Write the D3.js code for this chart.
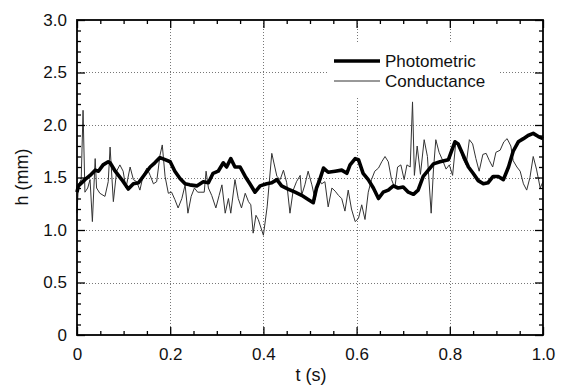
<!DOCTYPE html>
<html><head><meta charset="utf-8">
<script src="https://cdn.jsdelivr.net/npm/d3@7"></script>
<style>body{margin:0;background:#fff}svg{display:block}</style>
</head><body><svg id="c" width="563" height="387"></svg>
<script>
const seriesNames = ["Photometric", "Conductance"];
const xTicks = [0, 0.2, 0.4, 0.6, 0.8, 1.0];
const xTickLabels = ["0", "0.2", "0.4", "0.6", "0.8", "1.0"];
const yTicks = [0, 0.5, 1.0, 1.5, 2.0, 2.5, 3.0];
const yTickLabels = ["0", "0.5", "1.0", "1.5", "2.0", "2.5", "3.0"];
const xTitle = "t (s)";
const yTitle = "h (mm)";

const photoT = [0,0.003,0.017,0.028,0.039,0.046,0.056,0.067,0.071,0.082,0.096,0.110,0.121,0.132,0.142,0.157,0.167,0.178,0.189,0.200,0.210,0.221,0.232,0.242,0.257,0.271,0.282,0.292,0.303,0.314,0.321,0.330,0.339,0.350,0.361,0.371,0.382,0.393,0.407,0.418,0.429,0.439,0.453,0.468,0.482,0.496,0.507,0.514,0.521,0.529,0.539,0.554,0.568,0.579,0.586,0.597,0.604,0.614,0.625,0.636,0.647,0.657,0.668,0.679,0.689,0.700,0.711,0.722,0.732,0.743,0.754,0.765,0.779,0.797,0.811,0.818,0.829,0.840,0.850,0.861,0.872,0.882,0.893,0.904,0.915,0.926,0.936,0.947,0.958,0.968,0.979,0.990,1.000];
const photoH = [1.36,1.42,1.48,1.52,1.57,1.56,1.62,1.65,1.64,1.56,1.48,1.39,1.44,1.45,1.51,1.60,1.64,1.69,1.67,1.65,1.56,1.49,1.44,1.43,1.42,1.46,1.45,1.54,1.56,1.64,1.60,1.68,1.60,1.60,1.51,1.44,1.36,1.42,1.44,1.45,1.48,1.42,1.39,1.36,1.33,1.29,1.26,1.40,1.48,1.59,1.55,1.56,1.57,1.54,1.62,1.68,1.67,1.54,1.48,1.40,1.30,1.36,1.38,1.42,1.40,1.41,1.36,1.34,1.38,1.51,1.57,1.63,1.65,1.67,1.84,1.82,1.71,1.60,1.54,1.47,1.44,1.45,1.51,1.51,1.48,1.60,1.75,1.84,1.87,1.90,1.92,1.89,1.87];

const condT = [0.000,0.003,0.009,0.013,0.017,0.023,0.028,0.033,0.039,0.042,0.049,0.060,0.067,0.071,0.078,0.085,0.092,0.099,0.105,0.114,0.121,0.128,0.135,0.142,0.150,0.157,0.164,0.171,0.178,0.183,0.189,0.196,0.203,0.210,0.217,0.225,0.232,0.238,0.245,0.252,0.259,0.266,0.273,0.277,0.282,0.289,0.298,0.305,0.311,0.318,0.325,0.330,0.339,0.346,0.353,0.361,0.368,0.373,0.378,0.384,0.389,0.400,0.408,0.418,0.429,0.436,0.443,0.450,0.457,0.464,0.471,0.479,0.482,0.489,0.496,0.504,0.511,0.518,0.525,0.532,0.539,0.547,0.554,0.561,0.568,0.575,0.582,0.589,0.597,0.604,0.611,0.618,0.625,0.632,0.639,0.647,0.654,0.661,0.668,0.675,0.682,0.688,0.695,0.702,0.708,0.715,0.720,0.724,0.730,0.737,0.745,0.752,0.760,0.765,0.770,0.777,0.785,0.792,0.799,0.806,0.813,0.820,0.828,0.835,0.842,0.849,0.856,0.863,0.871,0.878,0.885,0.892,0.899,0.908,0.916,0.923,0.931,0.936,0.944,0.951,0.958,0.965,0.972,0.979,0.986,0.994,1.000];
const condH = [1.16,1.43,1.48,2.14,1.36,1.40,1.48,1.08,1.68,1.40,1.35,1.32,1.46,1.79,1.27,1.56,1.62,1.56,1.40,1.60,1.48,1.46,1.38,1.52,1.59,1.52,1.44,1.46,1.71,1.81,1.51,1.35,1.36,1.29,1.21,1.30,1.43,1.16,1.32,1.40,1.36,1.36,1.36,1.56,1.40,1.33,1.21,1.33,1.43,1.16,1.30,1.16,1.48,1.30,1.21,1.35,1.27,1.24,0.97,1.14,1.10,0.95,1.22,1.73,1.51,1.48,1.57,1.45,1.16,1.38,1.46,1.52,1.33,1.43,1.56,1.43,1.29,1.49,1.44,1.46,1.22,1.40,1.37,1.33,1.30,1.18,1.38,1.20,1.08,1.11,1.24,1.10,1.36,1.48,1.56,1.59,1.65,1.70,1.65,1.48,1.40,1.60,1.62,1.48,1.62,1.60,2.22,1.52,1.80,1.53,1.86,1.70,1.16,1.58,1.86,1.74,1.66,1.58,1.62,1.52,1.84,1.82,1.68,1.62,1.86,1.82,1.68,1.56,1.72,1.73,1.66,1.60,1.74,1.76,1.84,1.87,1.80,1.66,1.60,1.56,1.44,1.38,1.50,1.70,1.58,1.40,1.46];

const W = 563, H = 387;
const m = {left: 77, right: 543, top: 20, bottom: 335};
const FONT = "'Liberation Sans', Arial, Helvetica, sans-serif";

const svg = d3.select("#c");
const x = d3.scaleLinear().domain([0, 1]).range([m.left, m.right]);
const y = d3.scaleLinear().domain([0, 3]).range([m.bottom, m.top]);

const xMinor = d3.range(0, 21).map(i => i * 0.05).filter(v => !xTicks.some(t => Math.abs(t - v) < 1e-6));
const yMinor = d3.range(0, 31).map(i => i * 0.1).filter(v => !yTicks.some(t => Math.abs(t - v) < 1e-6));

// grid
const grid = svg.append("g").attr("stroke", "#777").attr("stroke-width", 1).attr("stroke-dasharray", "1,2");
grid.selectAll("line.gx").data(xTicks.slice(1, -1)).join("line")
  .attr("x1", d => Math.round(x(d)) + 0.5).attr("x2", d => Math.round(x(d)) + 0.5)
  .attr("y1", m.top).attr("y2", m.bottom);
grid.selectAll("line.gy").data(yTicks.slice(1, -1)).join("line")
  .attr("y1", d => Math.round(y(d)) + 0.5).attr("y2", d => Math.round(y(d)) + 0.5)
  .attr("x1", m.left).attr("x2", m.right);

// legend background
svg.append("rect").attr("x", 329).attr("y", 44).attr("width", 170).attr("height", 54).attr("fill", "#fff");

// data
const line = d3.line().x(d => x(d[0])).y(d => y(d[1]));
const condData = d3.zip(condT, condH);
const photoData = d3.zip(photoT, photoH);
svg.append("path").datum(condData).attr("d", line).attr("fill", "none")
  .attr("stroke", "#333").attr("stroke-width", 1).attr("stroke-linejoin", "round");
svg.append("path").datum(photoData).attr("d", line).attr("fill", "none")
  .attr("stroke", "#000").attr("stroke-width", 3.6).attr("stroke-linejoin", "round");

// axes
function styleAxis(g) {
  g.select(".domain").remove();
  g.selectAll(".tick line").attr("stroke", "#000").attr("stroke-width", 1.3);
  g.selectAll("text").attr("font-family", FONT).attr("font-size", 17).attr("fill", "#111");
}
svg.append("g").attr("transform", `translate(0,${m.bottom})`)
  .call(d3.axisBottom(x).tickValues(xTicks).tickFormat((d, i) => xTickLabels[i]).tickSize(-8).tickPadding(13))
  .call(styleAxis);
svg.append("g").attr("transform", `translate(0,${m.bottom})`)
  .call(d3.axisBottom(x).tickValues(xMinor).tickFormat("").tickSize(-4)).call(styleAxis);
svg.append("g").attr("transform", `translate(0,${m.top})`)
  .call(d3.axisTop(x).tickValues(xTicks).tickFormat("").tickSize(-8)).call(styleAxis);
svg.append("g").attr("transform", `translate(0,${m.top})`)
  .call(d3.axisTop(x).tickValues(xMinor).tickFormat("").tickSize(-4)).call(styleAxis);
svg.append("g").attr("transform", `translate(${m.left},0)`)
  .call(d3.axisLeft(y).tickValues(yTicks).tickFormat((d, i) => yTickLabels[i]).tickSize(-8).tickPadding(10))
  .call(styleAxis);
svg.append("g").attr("transform", `translate(${m.left},0)`)
  .call(d3.axisLeft(y).tickValues(yMinor).tickFormat("").tickSize(-4)).call(styleAxis);
svg.append("g").attr("transform", `translate(${m.right},0)`)
  .call(d3.axisRight(y).tickValues(yTicks).tickFormat("").tickSize(-8)).call(styleAxis);
svg.append("g").attr("transform", `translate(${m.right},0)`)
  .call(d3.axisRight(y).tickValues(yMinor).tickFormat("").tickSize(-4)).call(styleAxis);

// frame
svg.append("rect").attr("x", m.left).attr("y", m.top)
  .attr("width", m.right - m.left).attr("height", m.bottom - m.top)
  .attr("fill", "none").attr("stroke", "#000").attr("stroke-width", 1.8);

// titles
svg.append("text").attr("x", 311).attr("y", 381).attr("text-anchor", "middle")
  .attr("font-family", FONT).attr("font-size", 18).attr("fill", "#111").text(xTitle);
svg.append("text").attr("transform", "translate(28,177) rotate(-90)").attr("text-anchor", "middle")
  .attr("font-family", FONT).attr("font-size", 18).attr("fill", "#111").text(yTitle);

// legend
const lg = svg.append("g");
const legendRows = [{name: seriesNames[0], w: 3.6, yy: 61}, {name: seriesNames[1], w: 1, yy: 81}];
lg.selectAll("line").data(legendRows).join("line")
  .attr("x1", 334).attr("x2", 380).attr("y1", d => d.yy).attr("y2", d => d.yy)
  .attr("stroke", (d, i) => i ? "#333" : "#000").attr("stroke-width", d => d.w);
lg.selectAll("text").data(legendRows).join("text")
  .attr("x", 385).attr("y", d => d.yy + 6)
  .attr("font-family", FONT).attr("font-size", 17).attr("fill", "#111").text(d => d.name);
</script>
</body></html>
